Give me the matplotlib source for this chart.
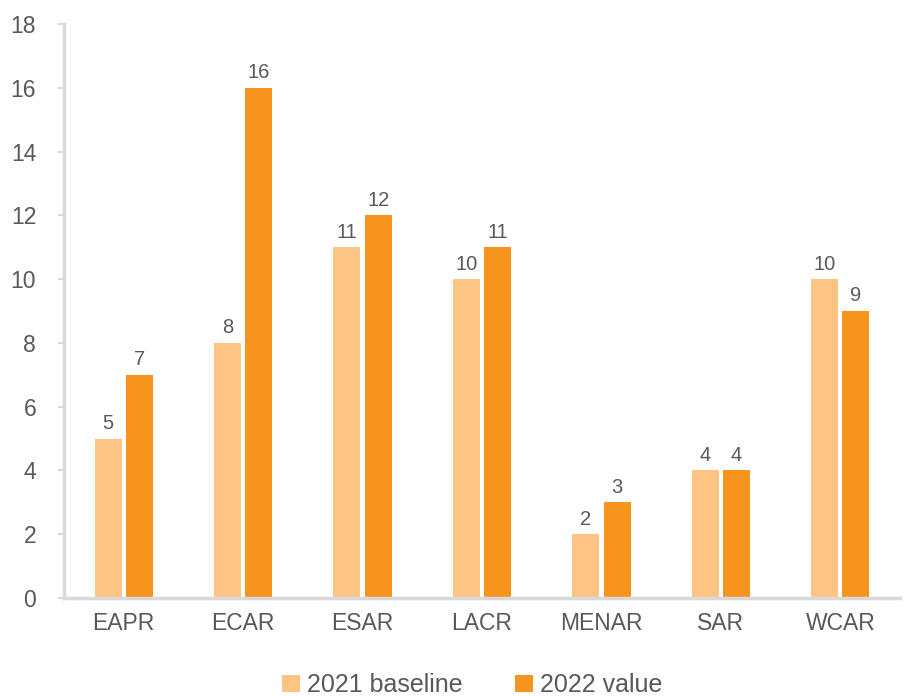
import matplotlib.pyplot as plt
import numpy as np

regions = ["EAPR", "ECAR", "ESAR", "LACR", "MENAR", "SAR", "WCAR"]
baseline_2021 = [5, 8, 11, 10, 2, 4, 10]
value_2022 = [7, 16, 12, 11, 3, 4, 9]

LIGHT = "#FDC483"
DARK = "#F7941E"
TEXT = "#595959"
GRID = "#D9D9D9"

plt.rcParams["font.family"] = ["Liberation Sans", "DejaVu Sans"]

fig = plt.figure(figsize=(9.06, 6.96), dpi=100)
ax = fig.add_axes([0.0706, 0.1408, 0.9228, 0.8247])

x = np.arange(len(regions))
w = 0.226
off = 0.131
b1 = ax.bar(x - off, baseline_2021, width=w, color=LIGHT, label="2021 baseline")
b2 = ax.bar(x + off, value_2022, width=w, color=DARK, label="2022 value")

for bars in (b1, b2):
    ax.bar_label(bars, padding=4, fontsize=14.5, color=TEXT)

ax.set_xlim(-0.5, len(regions) - 0.5)
ax.set_ylim(0, 18)
ax.set_yticks(range(0, 19, 2))
ax.set_xticks(x)
ax.set_xticklabels(regions)

for s in ["top", "right"]:
    ax.spines[s].set_visible(False)
for s in ["left", "bottom"]:
    ax.spines[s].set_color(GRID)
    ax.spines[s].set_linewidth(2.5)

ax.tick_params(axis="y", colors=GRID, labelcolor=TEXT, labelsize=16.5, length=4, width=1.5, pad=16)
ax.tick_params(axis="x", length=0, labelcolor=TEXT, labelsize=16.5, pad=10)

fig.legend(
    handles=[b1, b2],
    loc="lower center",
    bbox_to_anchor=(0.5215, -0.034),
    ncol=2,
    frameon=False,
    fontsize=18,
    labelcolor=TEXT,
    handlelength=0.7,
    handleheight=0.7,
    handletextpad=0.3,
    columnspacing=2.1,
)

fig.savefig("out.png", dpi=100)
